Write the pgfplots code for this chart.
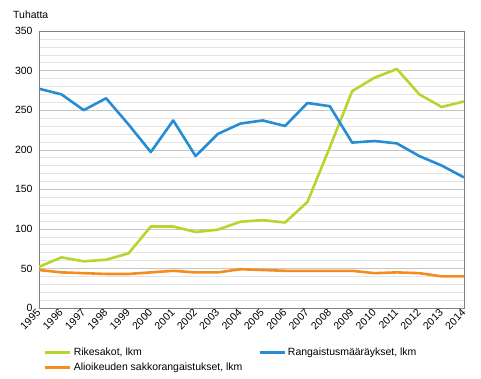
\documentclass[border=0pt]{standalone}
\usepackage{fontspec}
\setmainfont{Liberation Sans}
\usepackage{pgfplots}
\pgfplotsset{compat=1.18}
\definecolor{cgreen}{RGB}{185,212,45}
\definecolor{cblue}{RGB}{38,141,212}
\definecolor{corange}{RGB}{245,140,30}
\definecolor{axgray}{RGB}{128,128,128}
\begin{document}
\begin{tikzpicture}
\begin{axis}[
 scale only axis, width=425bp, height=277bp,
 xmin=1995, xmax=2014, ymin=0, ymax=350,
 xtick={1995,...,2014},
 ytick={0,50,...,350},
 minor ytick={10,20,...,340},
 ymajorgrids, yminorgrids,
 major grid style={gray!45},
 minor grid style={gray!20},
 axis line style={axgray},
 major tick length=0pt, minor tick length=0pt,
 /pgf/number format/assume math mode=true,
 /pgf/number format/1000 sep={},
 x tick label style={rotate=45, anchor=east, xshift=1bp, yshift=-2bp},
 y tick label style={xshift=-3bp},
 tick label style={font=\fontsize{10.5}{12}\selectfont},
 legend columns=2,
 legend cell align=left,
 legend style={draw=none, fill=none, at={(0,0)}, anchor=north west, xshift=2bp, yshift=-36bp,
   font=\fontsize{10.5}{12}\selectfont, row sep=2bp,
   /tikz/every even column/.append style={column sep=14bp}},
 legend image code/.code={\draw[#1] (0bp,0bp) -- (25bp,0bp);},
 every axis plot/.append style={line width=2.6bp, line join=round},
]
\coordinate (O) at (rel axis cs:0,0);
\coordinate (T) at (rel axis cs:0,1);
\addplot[cgreen] coordinates {
(1995,52) (1996,64) (1997,59) (1998,61) (1999,69) (2000,103) (2001,103) (2002,96) (2003,99) (2004,109)
(2005,111) (2006,108) (2007,134) (2008,203) (2009,274) (2010,291) (2011,302) (2012,270) (2013,254) (2014,261)};
\addlegendentry{Rikesakot, lkm}
\addplot[cblue] coordinates {
(1995,277) (1996,270) (1997,250) (1998,265) (1999,232) (2000,197) (2001,237) (2002,192) (2003,220) (2004,233)
(2005,237) (2006,230) (2007,259) (2008,255) (2009,209) (2010,211) (2011,208) (2012,192) (2013,180) (2014,165)};
\addlegendentry{Rangaistusmääräykset, lkm}
\addplot[corange] coordinates {
(1995,48) (1996,45) (1997,44) (1998,43) (1999,43) (2000,45) (2001,47) (2002,45) (2003,45) (2004,49)
(2005,48) (2006,47) (2007,47) (2008,47) (2009,47) (2010,44) (2011,45) (2012,44) (2013,40) (2014,40)};
\addlegendentry{Alioikeuden sakkorangaistukset, lkm}
\end{axis}
\node[anchor=west, font=\fontsize{10.5}{12}\selectfont, inner sep=0pt] at ([shift={(-26bp,16bp)}]T) {Tuhatta};
\pgfresetboundingbox
\useasboundingbox ([shift={(-39bp,-71bp)}]O) rectangle ++(481bp,379bp);
\end{tikzpicture}
\end{document}
